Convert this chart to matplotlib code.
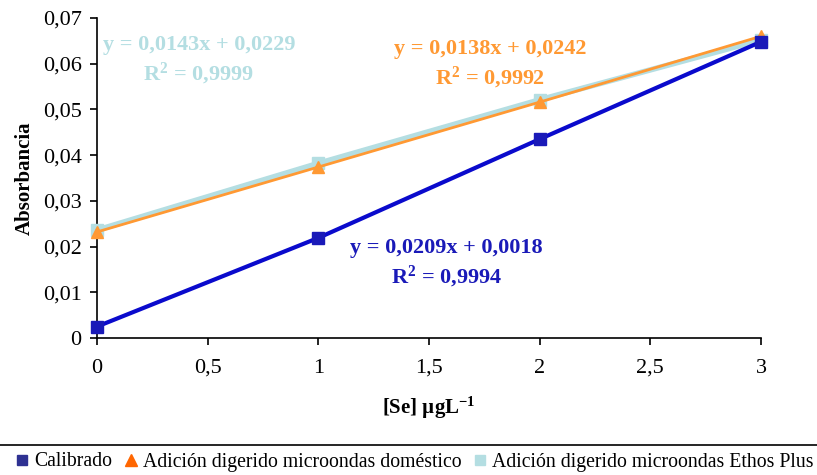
import matplotlib
matplotlib.use("Agg")
import matplotlib.pyplot as plt
from matplotlib.lines import Line2D
from matplotlib.ticker import FuncFormatter

plt.rcParams['font.family'] = ['Liberation Serif', 'DejaVu Serif']
plt.rcParams['mathtext.fontset'] = 'custom'
plt.rcParams['mathtext.rm'] = 'Liberation Serif'
plt.rcParams['mathtext.bf'] = 'Liberation Serif:bold'
plt.rcParams['mathtext.default'] = 'bf'

x = [0, 1, 2, 3]
calibrado = [0.0025, 0.0219, 0.0435, 0.0648]
domestico = [0.0232, 0.0374, 0.0516, 0.0660]
ethos = [0.0236, 0.0382, 0.0521, 0.0652]

series_names = ["Calibrado", "Adición digerido microondas doméstico", "Adición digerido microondas Ethos Plus"]
eq_cal = "y = 0,0209x + 0,0018\nR$^{2}$ = 0,9994"
eq_dom = "y = 0,0138x + 0,0242\nR$^{2}$ = 0,9992"
eq_eth = "y = 0,0143x + 0,0229\nR$^{2}$ = 0,9999"

W, H = 817, 475
fig = plt.figure(figsize=(W/100, H/100), dpi=100)
ax = fig.add_axes([97/W, (H-338)/H, (761-97)/W, 320/H])

ax.plot(x, ethos, color='#B4DEE2', lw=4, marker='s', ms=8, mfc='#B4DEE2', mec='#B4DEE2', zorder=3, clip_on=False)
ax.plot(x, domestico, color='#FF9933', lw=2, marker='^', ms=8, mfc='#FF9933', mec='#FF9933', zorder=4, clip_on=False)
ax.plot(x, calibrado, color='#0A0ACC', lw=3, marker='s', ms=8, mfc='#1A1AB8', mec='#1A1AB8', zorder=5, clip_on=False)

ax.set_xlim(0, 3)
ax.set_ylim(0, 0.07)
ax.set_xticks([0, 0.5, 1, 1.5, 2, 2.5, 3])
ax.set_yticks([0, 0.01, 0.02, 0.03, 0.04, 0.05, 0.06, 0.07])
fmt = lambda v, p: ('%g' % round(v, 3)).replace('.', ',')
ax.xaxis.set_major_formatter(FuncFormatter(fmt))
ax.yaxis.set_major_formatter(FuncFormatter(fmt))
for s in ['top', 'right']:
    ax.spines[s].set_visible(False)
for s in ['left', 'bottom']:
    ax.spines[s].set_linewidth(1.2)
ax.tick_params(direction='out', length=5, width=1.2, labelsize=16)
ax.tick_params(axis='x', pad=10)
ax.tick_params(axis='y', pad=6)
ax.set_ylabel("Absorbancia", fontsize=15, fontweight='bold', labelpad=6)
ax.set_xlabel("[Se] µgL$^{-1}$", fontsize=15, fontweight='bold', labelpad=12)

ax.text(0.46, 0.0606, eq_eth, color='#B4DEE2', fontsize=16, fontweight='bold', ha='center', va='center', linespacing=1.3)
ax.text(1.776, 0.0598, eq_dom, color='#FF9933', fontsize=16, fontweight='bold', ha='center', va='center', linespacing=1.3)
ax.text(1.577, 0.0161, eq_cal, color='#1A1AB8', fontsize=16, fontweight='bold', ha='center', va='center', linespacing=1.3)

fig.add_artist(Line2D([0, 1], [(H-445)/H, (H-445)/H], color='black', lw=1.2))
handles = [Line2D([], [], ls='none', marker='s', ms=7, color='#2E3192'),
           Line2D([], [], ls='none', marker='^', ms=8, color='#FF6600'),
           Line2D([], [], ls='none', marker='s', ms=7, color='#B4DEE2')]
fig.legend(handles, series_names, loc='center', bbox_to_anchor=(0.508, (H-462)/H), ncol=3,
           frameon=False, fontsize=14.2, handlelength=0.6, handletextpad=0.3, columnspacing=0.65,
           borderpad=0, borderaxespad=0)

fig.savefig("out.png", dpi=100)
